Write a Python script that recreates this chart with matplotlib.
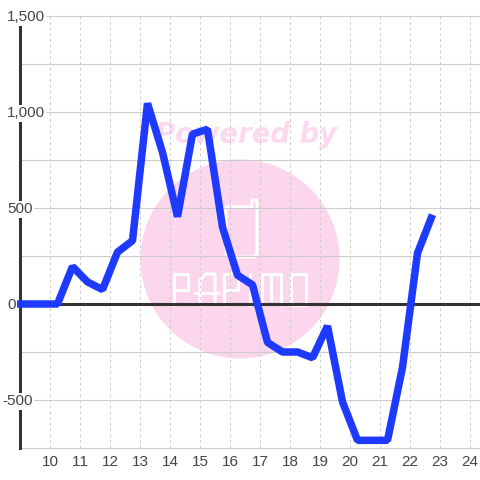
import matplotlib
matplotlib.use('Agg')
import matplotlib.pyplot as plt
from matplotlib.patches import Circle

hours = [8.9, 9.25, 9.75, 10.25, 10.75, 11.25, 11.75, 12.25, 12.75, 13.25, 13.75, 14.25,
         14.75, 15.25, 15.75, 16.25, 16.75, 17.25, 17.75, 18.25, 18.75, 19.25, 19.75,
         20.25, 20.75, 21.25, 21.75, 22.25, 22.75]
values = [0, 0, 0, 0, 195, 115, 75, 270, 330, 1045, 790, 455,
          885, 910, 400, 150, 100, -200, -250, -250, -280, -115, -510,
          -710, -710, -710, -330, 265, 465]
xticks = list(range(10, 25))
ygrid = list(range(-750, 1501, 250))
ylabels = [-500, 0, 500, 1000, 1500]

plt.rcParams['font.family'] = ['Liberation Sans', 'DejaVu Sans']
plt.rcParams['text.kerning_factor'] = 6

fig = plt.figure(figsize=(4.8, 4.8), dpi=100)

# watermark sits behind the chart, in pixel coords
bg = fig.add_axes([0, 0, 1, 1], zorder=0)
bg.set_xlim(0, 480)
bg.set_ylim(480, 0)
bg.axis('off')
bg.add_patch(Circle((240, 259), 99.5, color='#fbd6ec', lw=0))
bg.text(246, 135, 'Powered by', color='#fcd9ee', fontsize=19.8, fontweight='bold', fontstyle='italic',
        family='DejaVu Sans', ha='center', va='center')

# logo strokes
logo = [
    ([252, 226, 226, 229, 254, 257, 257, 252, 252], [207, 207, 254, 257, 257, 254, 200, 200, 207]),
    ([174, 174, 188, 188, 174], [305, 274, 274, 290, 290]),
    ([200, 200, 206, 215, 215], [305, 280, 274, 274, 305]),
    ([195, 218], [293, 293]),
    ([224, 224, 238, 238, 224], [305, 274, 274, 290, 290]),
    ([250, 250], [274, 305]),
    ([262, 262, 281, 281], [305, 274, 274, 305]),
    ([271, 271], [274, 300]),
    ([291, 291, 306, 306, 291], [274, 305, 305, 274, 274]),
]
for lx, ly in logo:
    bg.plot(lx, ly, color='white', lw=2.2, solid_capstyle='round')

ax = fig.add_axes([20 / 480, 32 / 480, 460 / 480, 432 / 480], zorder=1)
ax.patch.set_alpha(0)
ax.set_xlim(9, 24 + 1 / 3)
ax.set_ylim(-750, 1500)

for s in ['top', 'right', 'bottom']:
    ax.spines[s].set_visible(False)
ax.spines['left'].set_linewidth(2.2)
ax.spines['left'].set_color('#333333')

ax.set_yticks(ygrid)
ax.set_yticklabels([])
ax.set_xticks(xticks)
ax.tick_params(axis='y', length=0)
ax.tick_params(axis='x', length=0, labelsize=11, labelcolor='#444444', pad=5)
ax.grid(True, axis='y', color='#cccccc', lw=0.8)
ax.grid(True, axis='x', color='#cccccc', lw=0.75, ls=(0, (2.5, 3)))
ax.set_axisbelow(True)
for g in ax.yaxis.get_gridlines():
    g.set_clip_on(False)

ax.axhline(0, color='#333333', lw=2.2, zorder=3)
ax.plot(hours, values, color='#1f3aff', lw=5.4, solid_joinstyle='bevel', solid_capstyle='butt',
        zorder=4, clip_on=False)

# y labels have a white box that cuts the axis line, left aligned at the chart edge
for v in ylabels:
    px = 2 if v < 0 else 7
    ax.annotate(f'{v:,}', (0, v), xycoords=('figure pixels', 'data'), xytext=(px * 0.72, -1),
                textcoords='offset points', ha='left', va='center',
                fontsize=11, color='#444444', annotation_clip=False, zorder=10,
                bbox=dict(fc='white', ec='none', pad=1.2))

fig.savefig('out.png', dpi=100)
